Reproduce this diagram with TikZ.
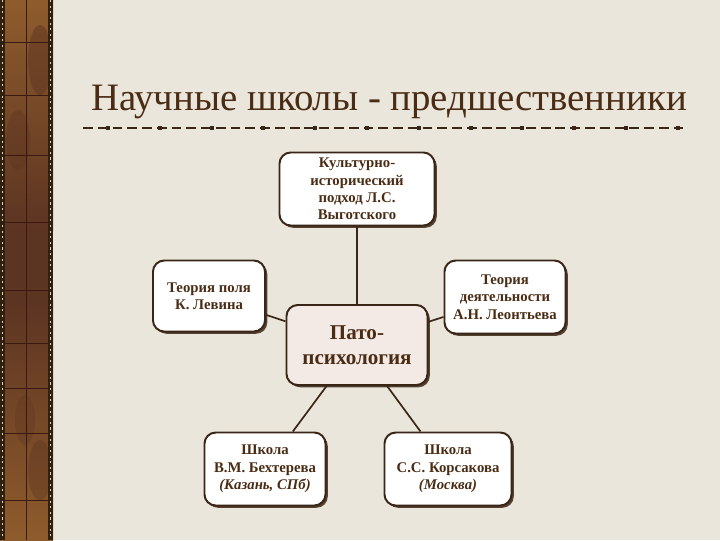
\documentclass[tikz,border=0pt]{standalone}
\usepackage{fontspec}
\setmainfont{Liberation Serif}
\usetikzlibrary{shadows}
\definecolor{paper}{HTML}{EAE6DC}
\definecolor{ink}{HTML}{4A2C14}
\definecolor{frame}{HTML}{3A2616}
\definecolor{pato}{HTML}{F4EAE5}
\definecolor{bark}{HTML}{8E5C2C}
\definecolor{barkdark}{HTML}{5C3422}
\definecolor{barkline}{HTML}{3A1A10}
\tikzset{
  school/.style={draw=frame, line width=1.4pt, rounded corners=8pt, fill=white,
    align=center, text=ink, inner sep=2pt,
    font=\bfseries\fontsize{10.5}{12.4}\selectfont,
    drop shadow={shadow xshift=1.6pt, shadow yshift=-1.6pt, fill=frame, opacity=0.85}},
  core/.style={school, fill=pato, font=\bfseries\fontsize{15}{17.7}\selectfont},
  link/.style={draw=frame, line width=1.2pt},
  headline/.style={text=ink, font=\fontsize{27.6}{32}\selectfont, anchor=base, inner sep=0pt},
}
\begin{document}
\begin{tikzpicture}[x=0.025cm, y=-0.025cm]
  %%%%% BACKGROUND %%%%%
  \useasboundingbox (0,0) rectangle (720,540);
  \fill[paper] (0,0) rectangle (720,540);

  %%%%% SIDEBAR %%%%%
  \shade[top color=bark, bottom color=barkdark] (0,0) rectangle (53,230);
  \fill[barkdark] (0,230) rectangle (53,300);
  \shade[top color=barkdark, bottom color=bark] (0,300) rectangle (53,540);
  \fill[barkdark, opacity=0.5] (40,60) ellipse (12 and 35);
  \fill[barkdark, opacity=0.4] (18,140) ellipse (12 and 30);
  \fill[barkdark, opacity=0.4] (40,470) ellipse (12 and 30);
  \fill[barkdark, opacity=0.3] (25,420) ellipse (10 and 25);
  \draw[barkline, line width=0.6pt] (26,0) -- (26,540);
  \foreach \y in {42,95,155,222,290,343,388,433,500}
    \draw[barkline, line width=0.6pt] (5,\y) -- (48,\y);
  \fill[black!75!brown] (0,0) rectangle (5,540);
  \fill[black!75!brown] (48,0) rectangle (53,540);
  \draw[paper!80!brown, line width=1pt, dash pattern=on 1.5pt off 2.5pt] (2.5,0) -- (2.5,540);
  \draw[paper!80!brown, line width=1pt, dash pattern=on 1.5pt off 2.5pt] (50.5,0) -- (50.5,540);

  %%%%% TITLE %%%%%
  \node[headline] (title) at (389,110) {Научные школы - предшественники};
  \draw[frame, line width=0.8pt, dash pattern=on 7pt off 3.5pt] (83,128) -- (684,128);
  \foreach \k in {0,...,11}
    \fill[frame] (108+51.8*\k,128) ++(-2,-2) rectangle ++(4,4);

  %%%%% SCHOOLS %%%%%
  \node[school, minimum width=3.875cm, minimum height=1.825cm] (vygotsky) at (357,189)
    {Культурно-\\исторический\\подход Л.С.\\Выготского};
  \node[school, minimum width=2.8cm, minimum height=1.775cm] (lewin) at (209,296)
    {Теория поля\\К. Левина};
  \node[school, minimum width=3.025cm, minimum height=1.825cm] (leontiev) at (505,297)
    {Теория\\деятельности\\А.Н. Леонтьева};
  \node[core, minimum width=3.525cm, minimum height=2cm] (pato) at (357,345)
    {Пато-\\психология};
  \node[school, minimum width=3.025cm, minimum height=1.825cm] (bekhterev) at (265,469)
    {Школа\\В.М. Бехтерева\\\textit{(Казань, СПб)}};
  \node[school, minimum width=3.175cm, minimum height=1.825cm] (korsakov) at (448,469)
    {Школа\\С.С. Корсакова\\\textit{(Москва)}};

  %%%%% LINKS %%%%%
  \draw[link] (pato) -- (vygotsky);
  \draw[link] (pato) -- (lewin);
  \draw[link] (pato) -- (leontiev);
  \draw[link] (pato) -- (bekhterev);
  \draw[link] (pato) -- (korsakov);
\end{tikzpicture}
\end{document}
